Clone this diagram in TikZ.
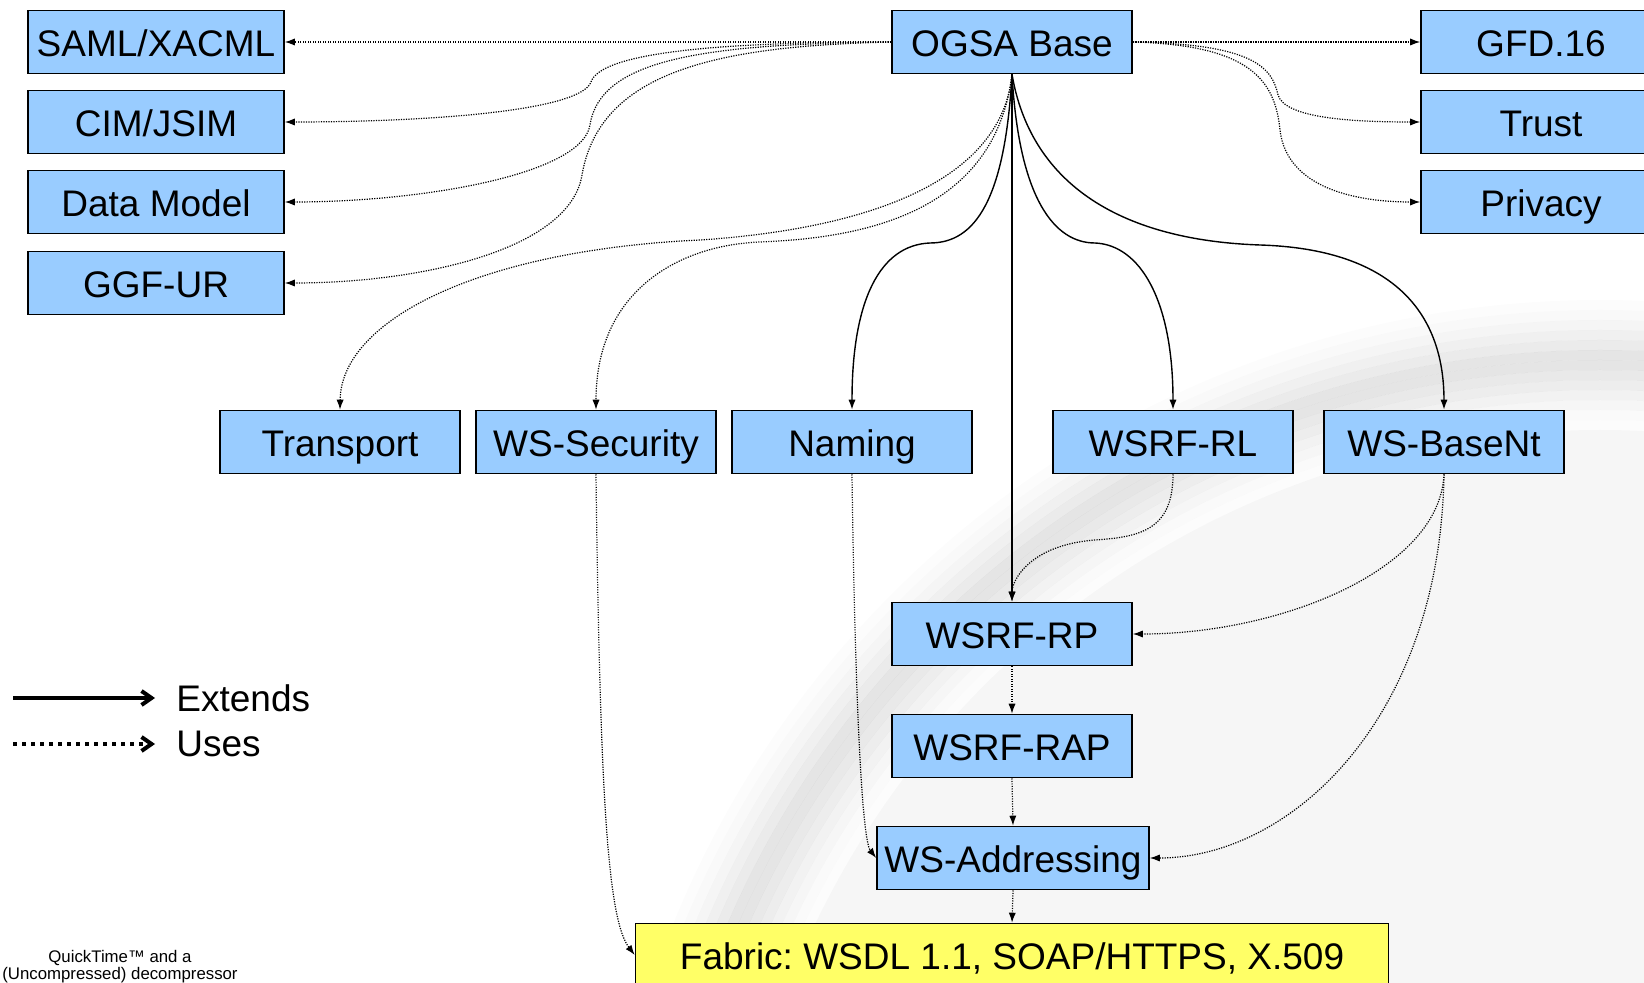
\documentclass[tikz,border=0pt]{standalone}
\usepackage{fontspec}
\setmainfont{Liberation Sans}
\usepackage{tikz}
\usetikzlibrary{arrows.meta, positioning}
\frenchspacing
\definecolor{boxblue}{HTML}{99CCFF}
\definecolor{fabyellow}{HTML}{FFFF66}
\tikzstyle{box}     = [draw, fill=boxblue, line width=0.8pt, minimum width=120pt, minimum height=31.5pt, inner sep=0pt, text height=15pt, text depth=0.3pt, font=\fontsize{18.5}{22}\selectfont]
\tikzstyle{extends} = [draw, line width=0.7pt, -{Latex[length=5pt, width=3.6pt]}]
\tikzstyle{uses}    = [draw, line width=0.6pt, dash pattern=on 0.6pt off 0.65pt, -{Latex[length=5pt, width=3.6pt]}]
\tikzstyle{legend}  = [anchor=west, inner sep=0pt, font=\fontsize{18.5}{22}\selectfont]

\begin{document}
\begin{tikzpicture}[x=0.5pt, y=-0.5pt, auto]
\useasboundingbox (0,0) rectangle (1644,983);

% background shadow
\begin{scope}
\clip (0,0) rectangle (1644,983);
\fill [black, opacity=0.035] (1600,1300) circle (870);
\foreach \r/\o in {995/0.01, 985/0.025, 975/0.04, 965/0.06, 955/0.08, 945/0.10, 935/0.10, 925/0.085, 915/0.07, 905/0.05, 895/0.035, 885/0.02, 875/0.01}
  \draw [black, opacity=\o, line width=5pt] (1600,1300) circle (\r);
\end{scope}

% nodes
\node [box, minimum width=128pt] at ( 156,  42) (saml)    {SAML/XACML};
\node [box, minimum width=128pt] at ( 156, 122) (cim)     {CIM/JSIM};
\node [box, minimum width=128pt] at ( 156, 202) (datam)   {Data Model};
\node [box, minimum width=128pt] at ( 156, 283) (ggf)     {GGF-UR};
\node [box]                      at (1012,  42) (ogsa)    {OGSA Base};
\node [box]                      at (1541,  42) (gfd)     {GFD.16};
\node [box]                      at (1541, 122) (trust)   {Trust};
\node [box]                      at (1541, 202) (privacy) {Privacy};
\node [box]                      at ( 340, 442) (transp)  {Transport};
\node [box]                      at ( 596, 442) (wssec)   {WS-Security};
\node [box]                      at ( 852, 442) (naming)  {Naming};
\node [box]                      at (1173, 442) (wsrfrl)  {WSRF-RL};
\node [box]                      at (1444, 442) (basent)  {WS-BaseNt};
\node [box]                      at (1012, 634) (wsrfrp)  {WSRF-RP};
\node [box]                      at (1012, 746) (wsrfrap) {WSRF-RAP};
\node [box, minimum width=136pt] at (1013, 858) (wsaddr)  {WS-Addressing};
\node [box, fill=fabyellow, minimum width=376.5pt] at (1012, 955) (fabric) {Fabric: WSDL 1.1, SOAP/HTTPS, X.509};

% legend
\coordinate (extA) at ( 13, 698);
\coordinate (extB) at (155, 698);
\coordinate (useA) at ( 13, 744);
\coordinate (useB) at (155, 744);
\node [legend] at (176, 698) (extlbl) {Extends};
\node [legend] at (176, 744) (uselbl) {Uses};
\node [align=center, inner sep=0pt, font=\fontsize{8.4}{8.6}\selectfont] at (120, 967) (qt) {QuickTime™ and a\\(Uncompressed) decompressor};

\draw [line width=2pt, -{Straight Barb[length=5pt, width=7pt]}] (extA) -- (extB);
\draw [line width=2pt, dash pattern=on 2pt off 2.5pt, -{Straight Barb[length=5pt, width=7pt]}] (useA) -- (useB);

% edges: extends
\draw [extends] (ogsa.south) -- (wsrfrp.north);
\draw [extends] (ogsa.south) .. controls (1005,200) and (975,243) .. (930,243)
                .. controls (880,245) and (852,300) .. (naming.north);
\draw [extends] (ogsa.south) .. controls (1019,200) and (1055,243) .. (1095,243)
                .. controls (1140,245) and (1173,300) .. (wsrfrl.north);
\draw [extends] (ogsa.south) .. controls (1030,180) and (1115,240) .. (1260,245)
                .. controls (1390,249) and (1444,310) .. (basent.north);

% edges: uses
\draw [uses] (ogsa.west) -- (saml.east);
\draw [uses] (ogsa.east) -- (gfd.west);
\draw [uses] (wsrfrp.south) -- (wsrfrap.north);
\draw [uses] (wsrfrap.south) -- (wsaddr.north);
\draw [uses] (wsaddr.south) -- (fabric.north);

\draw [uses] (ogsa.west) .. controls (700,42) and (600,55) .. (591,82)
             .. controls (580,112) and (420,122) .. (cim.east);
\draw [uses] (ogsa.west) .. controls (700,44) and (600,60) .. (590,125)
             .. controls (582,175) and (420,202) .. (datam.east);
\draw [uses] (ogsa.west) .. controls (720,46) and (600,70) .. (582,175)
             .. controls (570,250) and (420,283) .. (ggf.east);

\draw [uses] (ogsa.south) .. controls (1000,200) and (820,232) .. (700,240)
             .. controls (480,250) and (341,320) .. (transp.north);
\draw [uses] (ogsa.south) .. controls (995,215) and (860,238) .. (760,242)
             .. controls (680,245) and (596,290) .. (wssec.north);

\draw [uses] (ogsa.east) .. controls (1255,44) and (1272,68) .. (1278,95)
             .. controls (1285,118) and (1350,122) .. (trust.west);
\draw [uses] (ogsa.east) .. controls (1250,45) and (1275,80) .. (1280,130)
             .. controls (1287,190) and (1360,202) .. (privacy.west);

\draw [uses] (wsrfrl.south) .. controls (1173,530) and (1140,537) .. (1095,540)
             .. controls (1030,545) and (1012,580) .. (wsrfrp.north);
\draw [uses] (basent.south) .. controls (1440,570) and (1280,634) .. (wsrfrp.east);
\draw [uses] (basent.south) .. controls (1440,720) and (1290,858) .. (wsaddr.east);
\draw [uses] (naming.south) .. controls (855,700) and (862,840) .. (wsaddr.west);
\draw [uses] (wssec.south)  .. controls (600,800) and (608,920) .. (fabric.west);

\end{tikzpicture}
\end{document}
